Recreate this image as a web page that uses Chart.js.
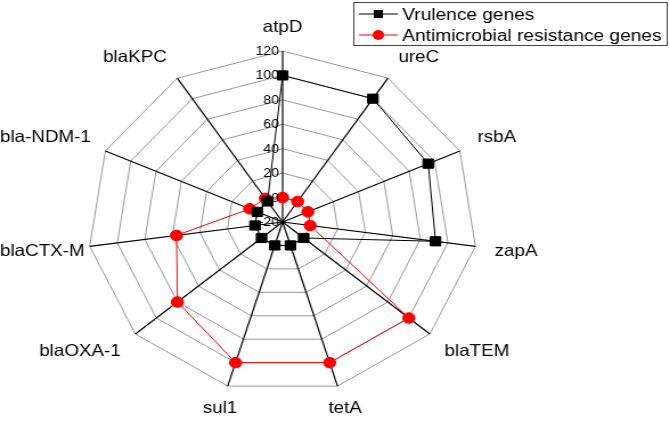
<!DOCTYPE html>
<html>
<head>
<meta charset="utf-8">
<script src="https://cdn.jsdelivr.net/npm/chart.js@4.4.1/dist/chart.umd.min.js"></script>
<style>
html, body { margin: 0; padding: 0; background: #fff; overflow: hidden; }
/* the reference is stretched sideways, so draw narrow and widen */
#wrap { width: 588px; height: 427px; transform: scaleX(1.1395); transform-origin: 0 0; }
</style>
</head>
<body>
<div id="wrap"><canvas id="radar"></canvas></div>
<script>
const genes = ['atpD', 'ureC', 'rsbA', 'zapA', 'blaTEM', 'tetA', 'sul1', 'blaOXA-1', 'blaCTX-M', 'bla-NDM-1', 'blaKPC'];
const virulence = [100, 100, 95, 91, 0, 0, 0, 0, 0, 0, 0];
const resistance = [0, 0, 0, 0, 100, 100, 100, 80, 57, 6, 3];
const tickValues = [-20, 0, 20, 40, 60, 80, 100, 120];
const seriesNames = ['Vrulence genes', 'Antimicrobial resistance genes'];

const FONT = 'Liberation Sans, Arial, sans-serif';

// tick labels sit left of the top spoke, right aligned
const tickLabels = {
    id: 'tickLabels',
    afterDatasetsDraw(chart) {
        const r = chart.scales.r;
        const ctx = chart.ctx;
        ctx.save();
        ctx.font = '12.5px ' + FONT;
        ctx.fillStyle = '#000';
        ctx.textAlign = 'right';
        ctx.textBaseline = 'middle';
        tickValues.forEach(v => {
            const y = r.yCenter - r.getDistanceFromCenterForValue(v);
            ctx.fillText(String(v), r.xCenter - 3, y + 0.5);
        });
        ctx.restore();
    }
};

const clamp = (v, lo, hi) => Math.max(lo, Math.min(hi, v));

// gene names: pushed out along the spoke, side labels hang off the vertex,
// bottom ones stay nearly centred, all kept inside the canvas
const geneLabels = {
    id: 'geneLabels',
    afterDatasetsDraw(chart) {
        const r = chart.scales.r;
        const ctx = chart.ctx;
        const pad = 17, h = 13;
        ctx.save();
        ctx.font = '16.5px ' + FONT;
        ctx.fillStyle = '#000';
        ctx.textAlign = 'center';
        ctx.textBaseline = 'middle';
        chart.data.labels.forEach((label, i) => {
            const a = r.getIndexAngle(i);
            const sx = Math.sin(a), sy = -Math.cos(a);
            const w = ctx.measureText(label).width;
            const p = r.getPointPosition(i, r.drawingArea + pad);
            const fx = Math.sign(sx) * clamp((Math.abs(sx) - 0.25) * 4, 0, 1);
            const fy = clamp(sy * 3, -1, 1);
            const x = clamp(p.x + fx * w / 2, w / 2, chart.width - w / 2);
            const y = p.y + fy * h / 2;
            ctx.fillText(label, x, y);
        });
        ctx.restore();
    }
};

// boxed legend in the top right corner
const boxLegend = {
    id: 'boxLegend',
    afterDraw(chart) {
        const ctx = chart.ctx;
        const x0 = 310, y0 = 2, w = 275, h = 43;
        ctx.save();
        ctx.fillStyle = '#fff';
        ctx.fillRect(x0, y0, w, h);
        ctx.strokeStyle = '#444';
        ctx.lineWidth = 1;
        ctx.strokeRect(x0 + 0.5, y0 + 0.5, w, h);
        ctx.font = '16.8px ' + FONT;
        ctx.textBaseline = 'middle';
        chart.data.datasets.forEach((ds, i) => {
            const y = y0 + 12 + i * 21;
            ctx.strokeStyle = ds.borderColor;
            ctx.lineWidth = 1;
            ctx.beginPath();
            ctx.moveTo(x0 + 5, y);
            ctx.lineTo(x0 + 39, y);
            ctx.stroke();
            ctx.fillStyle = ds.pointBackgroundColor;
            if (ds.pointStyle === 'rect') {
                ctx.fillRect(x0 + 18, y - 4, 8, 8);
            } else {
                ctx.beginPath();
                ctx.arc(x0 + 22, y, 5, 0, Math.PI * 2);
                ctx.fill();
            }
            ctx.fillStyle = '#000';
            ctx.fillText(ds.label, x0 + 43, y + 1);
        });
        ctx.restore();
    }
};

const ctx = document.getElementById('radar').getContext('2d');
const chart = new Chart(ctx, {
    type: 'radar',
    data: {
        labels: genes,
        datasets: [{
            label: seriesNames[0],
            data: virulence,
            borderColor: '#000',
            backgroundColor: '#000',
            pointBackgroundColor: '#000',
            pointBorderColor: '#000',
            pointStyle: 'rect',
            pointRadius: 6.5,
            borderWidth: 1,
            fill: false
        }, {
            label: seriesNames[1],
            data: resistance,
            borderColor: '#ff0000',
            backgroundColor: '#ff0000',
            pointBackgroundColor: '#ff0000',
            pointBorderColor: '#ff0000',
            pointStyle: 'circle',
            pointRadius: 5.3,
            borderWidth: 1,
            fill: false
        }]
    },
    options: {
        responsive: true,
        maintainAspectRatio: false,
        animation: false,
        layout: { padding: { top: 51, bottom: 33, left: 76, right: 168 } },
        scales: {
            r: {
                min: -20,
                max: 120,
                ticks: { stepSize: 20, display: false },
                grid: { color: '#9a9a9a', lineWidth: 1 },
                angleLines: { color: '#000', lineWidth: 1.2 },
                pointLabels: { display: false }
            }
        },
        plugins: {
            legend: { display: false },
            tooltip: { enabled: false }
        }
    },
    plugins: [tickLabels, geneLabels, boxLegend]
});
</script>
</body>
</html>
